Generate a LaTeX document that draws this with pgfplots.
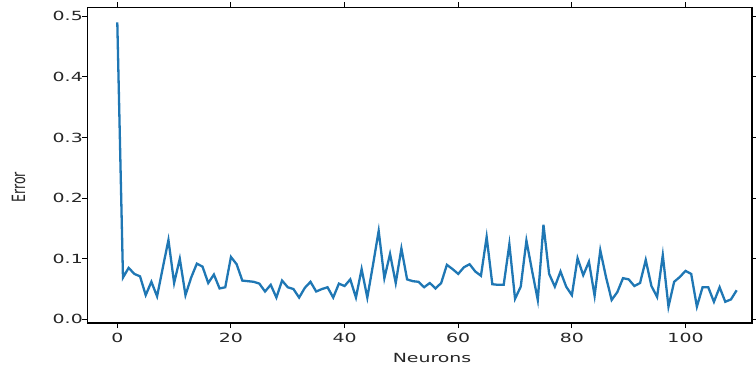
\documentclass[border=0pt]{standalone}
\usepackage{fontspec}
\setmainfont{DejaVu Sans}
\usepackage{graphicx}
\usepackage{pgfplots}
\pgfplotsset{compat=1.18}
\definecolor{mplblue}{HTML}{1F77B4}
\begin{document}
\begin{tikzpicture}
\useasboundingbox (-87.3bp,-48bp) rectangle (668.7bp,323bp);
\begin{axis}[
  at={(0,0)}, anchor=south west,
  scale only axis, width=664.7bp, height=315.7bp,
  xmin=-5.28, xmax=111.7, ymin=-0.006, ymax=0.515,
  xtick={0,20,40,60,80,100},
  ytick={0,0.1,0.2,0.3,0.4,0.5},
  scaled y ticks=false,
  /pgf/number format/assume math mode=true,
  xticklabel={\scalebox{1.5}[1]{\pgfmathprintnumber{\tick}}},
  yticklabel={\scalebox{1.5}[1]{\pgfmathprintnumber[fixed,fixed zerofill,precision=1]{\tick}}},
  xticklabel style={yshift=-2bp},
  yticklabel style={xshift=4bp},
  tick align=outside, major tick length=5bp,
  tick style={black, line width=1bp},
  axis line style={line width=1.1bp},
  tick label style={font=\fontsize{12.6bp}{14bp}\selectfont, text=black!85},
  xlabel={\scalebox{1.5}[1]{Neurons}},
  ylabel={\scalebox{1}[1.45]{Error}},
  label style={font=\fontsize{12.6bp}{14bp}\selectfont, text=black!85},
  xlabel style={at={(axis description cs:0.5186,0)}, anchor=center, yshift=-35bp},
  ylabel style={at={(axis description cs:-0.1035,0.43)}, anchor=center},
]
\addplot[mplblue, line width=2.3bp] coordinates {
(0,0.490) (1,0.069) (2,0.085) (3,0.075) (4,0.071) (5,0.040) (6,0.062) (7,0.038) (8,0.085) (9,0.131)
(10,0.060) (11,0.100) (12,0.040) (13,0.069) (14,0.092) (15,0.087) (16,0.060) (17,0.074) (18,0.051) (19,0.053)
(20,0.103) (21,0.091) (22,0.064) (23,0.063) (24,0.062) (25,0.059) (26,0.046) (27,0.057) (28,0.036) (29,0.064)
(30,0.053) (31,0.050) (32,0.036) (33,0.052) (34,0.062) (35,0.046) (36,0.050) (37,0.053) (38,0.036) (39,0.059)
(40,0.055) (41,0.066) (42,0.036) (43,0.083) (44,0.036) (45,0.090) (46,0.146) (47,0.068) (48,0.108) (49,0.060)
(50,0.117) (51,0.066) (52,0.063) (53,0.062) (54,0.053) (55,0.060) (56,0.051) (57,0.060) (58,0.090) (59,0.083)
(60,0.075) (61,0.086) (62,0.091) (63,0.079) (64,0.072) (65,0.136) (66,0.058) (67,0.057) (68,0.057) (69,0.124)
(70,0.034) (71,0.054) (72,0.130) (73,0.080) (74,0.032) (75,0.156) (76,0.075) (77,0.054) (78,0.079) (79,0.054)
(80,0.040) (81,0.101) (82,0.073) (83,0.095) (84,0.039) (85,0.114) (86,0.070) (87,0.032) (88,0.045) (89,0.068)
(90,0.066) (91,0.055) (92,0.060) (93,0.098) (94,0.055) (95,0.037) (96,0.106) (97,0.021) (98,0.062) (99,0.070)
(100,0.080) (101,0.075) (102,0.021) (103,0.053) (104,0.053) (105,0.029) (106,0.053) (107,0.029) (108,0.033) (109,0.048)
};
\end{axis}
\end{tikzpicture}
\end{document}
